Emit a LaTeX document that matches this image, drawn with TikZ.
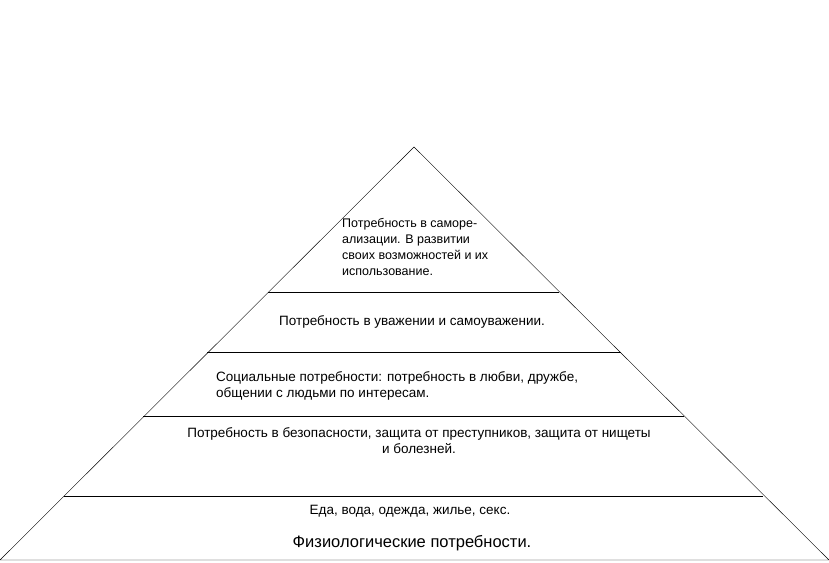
\documentclass[tikz,border=0pt]{standalone}
\usepackage{fontspec}
\setmainfont{Liberation Sans}
\usetikzlibrary{positioning}

\begin{document}
\begin{tikzpicture}[x=1pt,y=-1pt,
    level/.style={inner sep=0pt, font=\fontsize{13.5}{16.5}\selectfont},
    small/.style={inner sep=0pt, font=\fontsize{12.5}{16}\selectfont, align=left},
    big/.style={inner sep=0pt, font=\fontsize{16.5}{19}\selectfont}
]
\useasboundingbox (0,0) rectangle (829,562);

% pyramid
\coordinate (apex) at (414,147);
\draw (0,560) -- (apex) -- (829,560) -- cycle;
\draw (268,292) -- (559,292);
\draw (207,352) -- (621,352);
\draw (143,416) -- (684,416);
\draw (64,496) -- (763,496);

\node[small, anchor=north west] (self) at (342,218)
  {Потребность в саморе-\\ализации. В развитии\\своих возможностей и их\\использование.};
\node[level] (respect) at (412,322) {Потребность в уважении и самоуважении.};
\node[level, align=left, anchor=north west] (social) at (216,371)
  {Социальные потребности: потребность в любви, дружбе,\\общении с людьми по интересам.};
\node[level, align=center, anchor=north] (safety) at (419,427)
  {Потребность в безопасности, защита от преступников, защита от нищеты\\и болезней.};
\node[level] (food) at (410,511) {Еда, вода, одежда, жилье, секс.};
\node[big] (phys) at (412,543) {Физиологические потребности.};
\end{tikzpicture}
\end{document}
